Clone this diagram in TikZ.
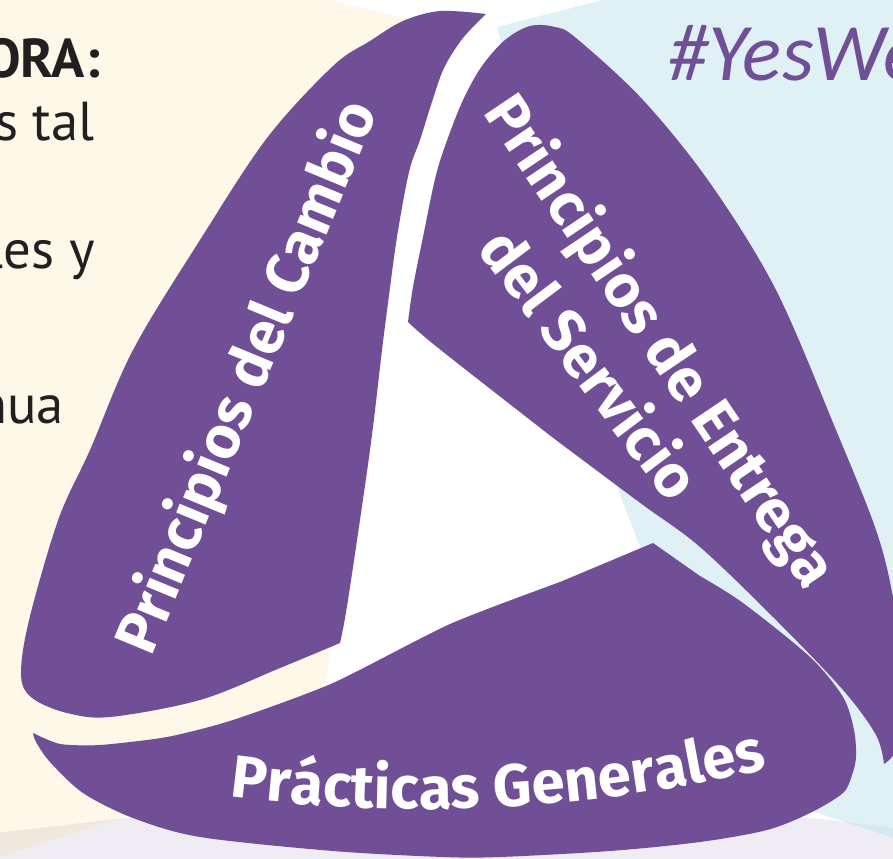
\documentclass[tikz,border=0pt]{standalone}
\usepackage{fontspec}
\setmainfont{PT Sans}
\newfontfamily\bladefont{Fira Sans}
\newfontfamily\hashfont{Carlito}
\usetikzlibrary{decorations.text}
\definecolor{purp}{HTML}{704F96}
\definecolor{creamc}{HTML}{FEF8E8}
\definecolor{skyc}{HTML}{E0F1F6}
\definecolor{lavc}{HTML}{EFECF4}
\definecolor{beigec}{HTML}{EFE8DD}
\definecolor{dbluec}{HTML}{D5E8EF}
\definecolor{darktxt}{HTML}{231F20}
\tikzset{
  bladetxt/.style={text=white, inner sep=0pt, font=\bladefont\bfseries\fontsize{60}{60}\selectfont},
  lefttxt/.style={text=darktxt, inner sep=0pt, font=\fontsize{55}{55}\selectfont},
  blade/.style={fill=purp, draw=none}
}
\begin{document}
\begin{tikzpicture}[x=1bp,y=-1bp]
\useasboundingbox (0,0) rectangle (893,859);
\begin{scope}
\clip (0,0) rectangle (893,859);
% background panels
\fill[creamc] (-10,-10) -- (290,-10) -- (420,22) -- (315,755) -- (-10,860) -- cycle;
\fill[skyc] (497,27) -- (617,487) -- (640,547) -- (700,774) -- (903,841) -- (903,-10) -- (642,-10) -- cycle;
\fill[lavc] (-10,834) -- (470,777) -- (846,822) -- (903,829) -- (903,870) -- (-10,870) -- cycle;
\begin{scope}
\clip (-10,-10) -- (290,-10) -- (420,22) -- (315,755) -- (-10,860) -- cycle;
\fill[beigec] (-10,834) -- (470,777) -- (846,822) -- (903,829) -- (903,870) -- (-10,870) -- cycle;
\end{scope}
\begin{scope}
\clip (497,27) -- (617,487) -- (640,547) -- (700,774) -- (903,841) -- (903,-10) -- (642,-10) -- cycle;
\fill[dbluec] (-10,834) -- (470,777) -- (846,822) -- (903,829) -- (903,870) -- (-10,870) -- cycle;
\end{scope}
% blade 1 (left)
\fill[blade] plot[smooth, tension=0.55] coordinates {(486,14) (440,11) (403,21) (370,41) (333,66) (267,138) (200,240) (133,350) (90,450) (60,515) (35,597) (23,650) (22,683) (35,700) (67,713) (110,717) (200,700) (280,668) (340,643)}
  -- plot[smooth, tension=0.55] coordinates {(340,643) (348,600) (370,450) (382,350) (388,303) (397,237) (409,172) (420,140) (431,105) (444,68) (463,38) (486,14)} -- cycle;
% blade 2 (right)
\fill[blade] plot[smooth, tension=0.55] coordinates {(408,322) (413,287) (423,237) (436,175) (449,135) (464,98) (482,66) (505,40) (530,26) (555,27) (576,38) (643,100) (710,183) (776,290) (836,430) (876,530) (893,597) (905,680) (898,745) (884,764)}
  -- plot[smooth, tension=0.55] coordinates {(884,764) (876,735) (843,690) (776,620) (700,547) (643,505) (580,458) (543,430) (437,347) (408,322)} -- cycle;
% blade 3 (bottom)
\fill[blade] (653,543) -- plot[smooth, tension=0.5] coordinates {(700,576) (743,603) (810,657) (843,697) (854,730) (856,757) (852,775) (843,793) (810,813) (767,830) (700,842) (610,851) (500,857) (443,857) (333,851) (200,837) (133,818) (83,793) (50,762) (36,742) (33,733)}
  -- plot[smooth, tension=0.4] coordinates {(33,733) (60,744) (100,745) (167,737) (233,720) (333,683) (450,624) (560,582)} -- cycle;
\end{scope}
% texts on the left
\node[lefttxt, font=\bfseries\fontsize{55}{55}\selectfont, anchor=base east] (ora) at (100,77) {ORA:};
\node[lefttxt, anchor=base east] (tal) at (95,140) {s tal};
\node[lefttxt, anchor=base east] (lesy) at (95,268) {les y};
\node[lefttxt, anchor=base east] (nua) at (64,423) {nua};
% hashtag
\node[inner sep=0pt, anchor=base west, text=purp, font=\hashfont\itshape\fontsize{82}{82}\selectfont] (yeswe) at (668,80) {\#YesWe};
% blade labels
\node[bladetxt, rotate=67.5, anchor=base] (cambio) at (265,384) {Principios del Cambio};
\node[bladetxt, rotate=-56, anchor=base] (entrega1) at (644,352) {Principios de Entrega};
\node[bladetxt, rotate=-53, anchor=base] (entrega2) at (573,377) {del Servicio};
\path[decorate, decoration={text along path, text align=center, text color=white,
  text={|\bladefont\bfseries\fontsize{60}{60}\selectfont|Prácticas Generales}}]
  plot[smooth, domain=100:74, samples=30] ({421+1506*cos(\x)}, {-697+1506*sin(\x)});
\end{tikzpicture}
\end{document}
